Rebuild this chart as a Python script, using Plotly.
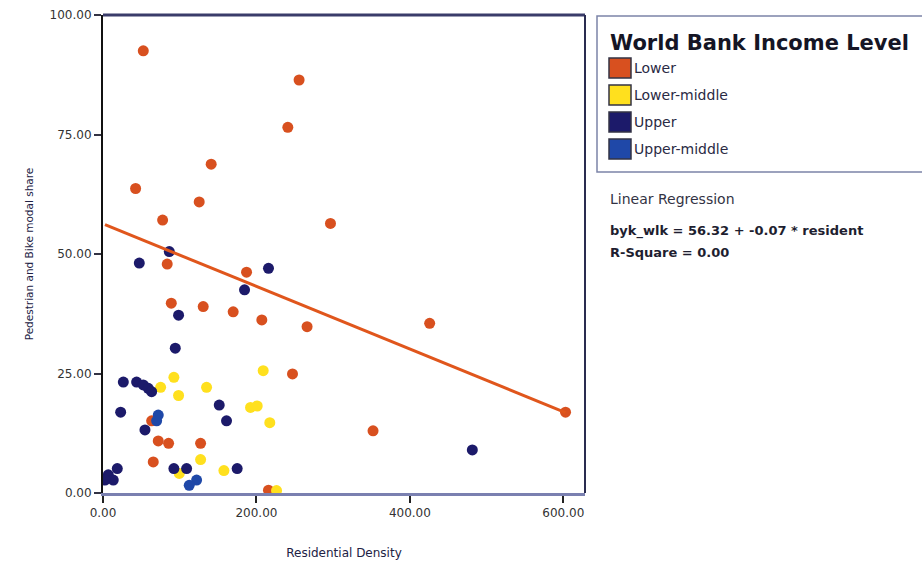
import plotly.graph_objects as go

# Residential density vs. pedestrian/bike modal share, by World Bank income level
lower_x = [52.5, 255.6, 240.9, 141.0, 42.5, 125.4, 77.7, 296.5, 83.7, 187.1, 89.0, 130.6,
           169.7, 207.0, 266.0, 247.0, 72.0, 85.5, 127.2, 65.5, 215.7, 425.8, 352.0, 602.9, 63.4]
lower_y = [92.5, 86.4, 76.5, 68.8, 63.7, 60.9, 57.1, 56.4, 47.9, 46.2, 39.7, 39.0,
           37.9, 36.2, 34.8, 24.9, 10.9, 10.4, 10.4, 6.5, 0.6, 35.5, 13.0, 16.9, 15.1]

lowmid_x = [208.8, 92.4, 75.1, 98.5, 135.0, 192.3, 201.0, 217.4, 127.2, 99.4, 157.6, 226.2]
lowmid_y = [25.6, 24.2, 22.1, 20.4, 22.1, 17.9, 18.2, 14.7, 7.0, 4.1, 4.7, 0.5]

upper_x = [86.4, 47.3, 215.7, 184.5, 98.5, 94.2, 26.5, 43.8, 52.5, 59.0, 63.4, 151.5,
           161.0, 23.0, 54.7, 92.4, 109.0, 174.9, 18.6, 6.9, 13.4, 2.6, 481.4]
upper_y = [50.5, 48.1, 47.0, 42.5, 37.2, 30.3, 23.2, 23.2, 22.6, 21.9, 21.2, 18.4,
           15.1, 16.9, 13.2, 5.1, 5.1, 5.1, 5.1, 3.8, 2.7, 2.7, 9.0]

upmid_x = [72.0, 69.9, 122.0, 112.4]
upmid_y = [16.3, 15.1, 2.7, 1.6]

groups = ["Lower", "Lower-middle", "Upper", "Upper-middle"]
colors = ["#d8501f", "#ffe01e", "#1c1a6a", "#1f48a8"]

# Linear fit
intercept = 56.32
slope = -0.0655
r_square = 0.00
fit_x = [2.6, 602.9]

x_ticks = [0, 200, 400, 600]
y_ticks = [0, 25, 50, 75, 100]

W, H = 922, 561
L, R, T, B = 103, 585, 15, 493


def px(x):
    # page pixel -> paper fraction of the plot area
    return (x - L) / (R - L)


def py(y):
    return (B - y) / (B - T)


fig = go.Figure()
series = [(lower_x, lower_y), (lowmid_x, lowmid_y), (upper_x, upper_y), (upmid_x, upmid_y)]
for name, col, (xs, ys) in zip(groups, colors, series):
    fig.add_trace(go.Scatter(
        x=xs, y=ys, mode="markers", name=name, showlegend=False,
        marker=dict(size=11, color=col, line=dict(width=0)),
    ))

fig.add_trace(go.Scatter(
    x=fit_x, y=[intercept + slope * v for v in fit_x], mode="lines",
    line=dict(color="#e0561c", width=3), showlegend=False,
))

tick_font = dict(family="DejaVu Sans", size=12, color="#333333")
fig.update_xaxes(
    range=[0, (R - L) / 0.7672], tickvals=x_ticks,
    ticktext=[f"{v:.2f}" for v in x_ticks], tickfont=tick_font,
    ticks="outside", ticklen=7, tickwidth=2, tickcolor="#222222",
    showgrid=False, zeroline=False, automargin=False,
    showline=True, linecolor="#7a80b0", linewidth=3,
    title=dict(text="Residential Density", font=dict(family="DejaVu Sans", size=12, color="#222244"),
               standoff=30),
)
fig.update_yaxes(
    range=[0, 100], tickvals=y_ticks,
    ticktext=[f"{v:.2f}" for v in y_ticks], tickfont=tick_font,
    ticks="outside", ticklen=7, tickwidth=2, tickcolor="#333344",
    showgrid=False, zeroline=False, automargin=False,
    showline=True, linecolor="#111111", linewidth=2,
    title=dict(text="Pedestrian and Bike modal share", font=dict(family="DejaVu Sans", size=10.5, color="#222244"),
               standoff=14),
)

shapes = [
    # top and right frame edges
    dict(type="line", xref="paper", yref="paper", x0=0, x1=1, y0=1, y1=1,
         line=dict(color="#3a3c6a", width=3)),
    dict(type="line", xref="paper", yref="paper", x0=1, x1=1, y0=0, y1=1,
         line=dict(color="#2a2c50", width=2)),
    # legend box
    dict(type="rect", xref="paper", yref="paper", x0=px(597), x1=px(935), y0=py(172), y1=py(16),
         line=dict(color="#7c84a8", width=1.5), fillcolor="white"),
]
annotations = [
    dict(text="<b>World Bank Income Level</b>", xref="paper", yref="paper",
         x=px(608), y=py(43), xanchor="left", yanchor="middle", showarrow=False,
         font=dict(family="DejaVu Sans", size=21, color="#151525")),
]
for i, (name, col) in enumerate(zip(groups, colors)):
    cy = 68 + 27 * i
    shapes.append(dict(type="rect", xref="paper", yref="paper",
                       x0=px(609), x1=px(631), y0=py(cy + 10), y1=py(cy - 10),
                       fillcolor=col, line=dict(color="#333344", width=1.5)))
    annotations.append(dict(text=name, xref="paper", yref="paper", x=px(632), y=py(cy),
                            xanchor="left", yanchor="middle", showarrow=False,
                            font=dict(family="DejaVu Sans", size=14, color="#2a2a44")))

annotations += [
    dict(text="Linear Regression", xref="paper", yref="paper", x=px(608), y=py(199),
         xanchor="left", yanchor="middle", showarrow=False,
         font=dict(family="DejaVu Sans", size=14, color="#333344")),
    dict(text=f"<b>byk_wlk = {intercept:.2f} + {slope:.2f} * resident</b>", xref="paper", yref="paper",
         x=px(608), y=py(231), xanchor="left", yanchor="middle", showarrow=False,
         font=dict(family="DejaVu Sans", size=13, color="#1e1e30")),
    dict(text=f"<b>R-Square = {r_square:.2f}</b>", xref="paper", yref="paper",
         x=px(608), y=py(252), xanchor="left", yanchor="middle", showarrow=False,
         font=dict(family="DejaVu Sans", size=13, color="#1e1e30")),
]

fig.update_layout(
    width=W, height=H,
    margin=dict(l=L, r=W - R, t=T, b=H - B),
    plot_bgcolor="white", paper_bgcolor="white",
    shapes=shapes, annotations=annotations,
)

fig.write_html("out.html")
